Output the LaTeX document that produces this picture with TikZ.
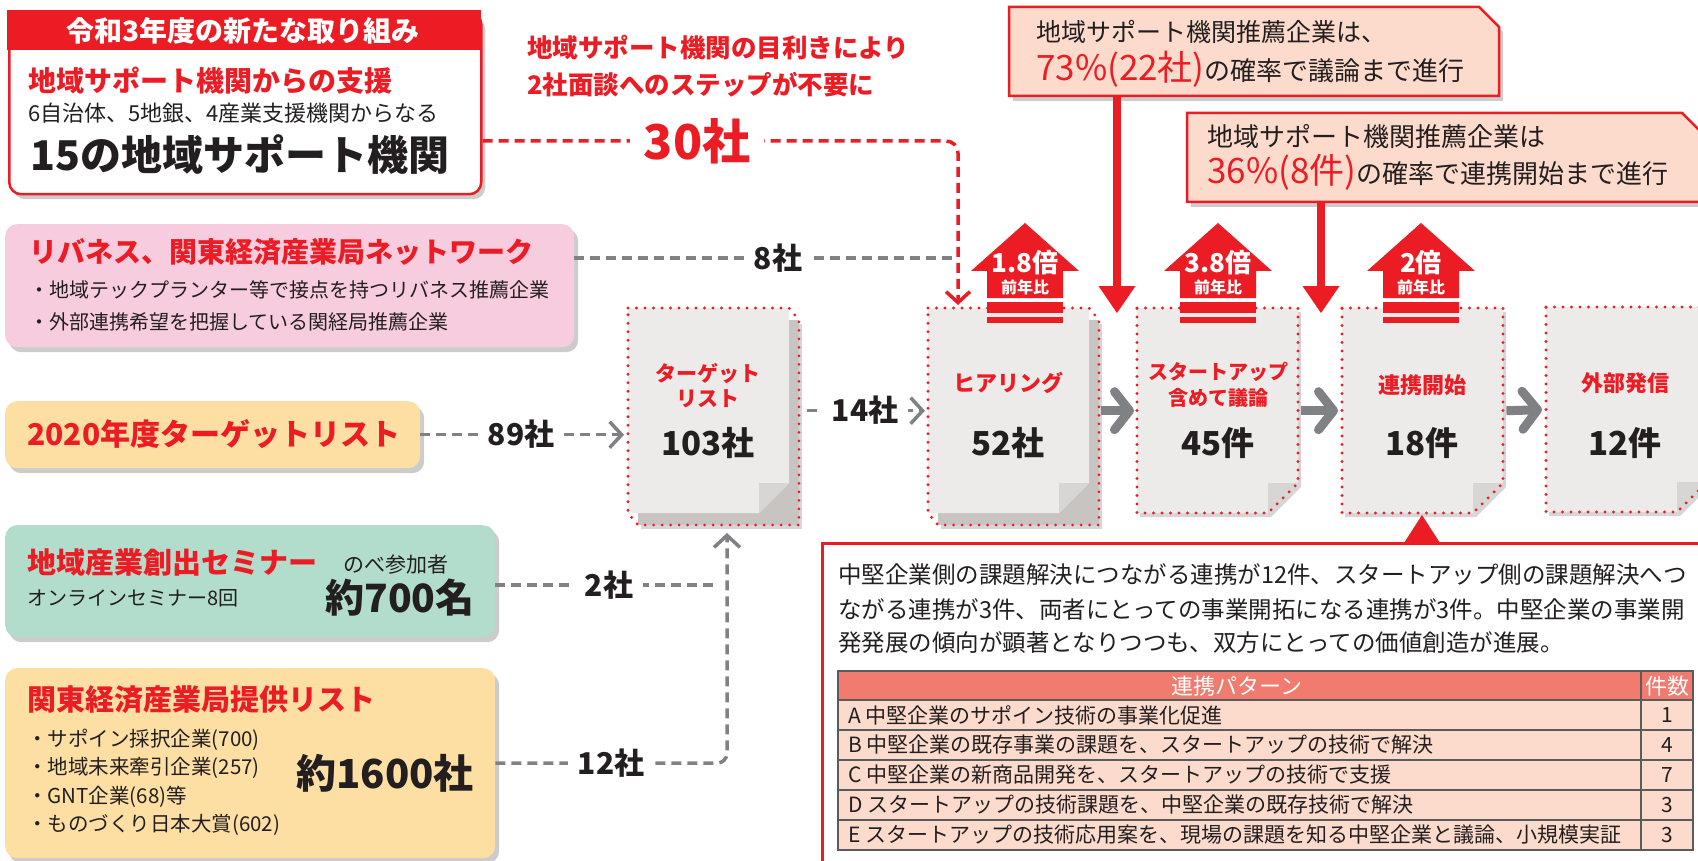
\documentclass[tikz,border=0pt]{standalone}
\usepackage{fontspec}
\setmainfont{Noto Sans CJK JP}
\usetikzlibrary{arrows.meta,shadows,calc}
\definecolor{tred}{HTML}{EC1C24}
\definecolor{tpink}{HTML}{F8CCDF}
\definecolor{tgreen}{HTML}{B2DCCB}
\definecolor{tyellow}{HTML}{FDDFA4}
\definecolor{tsalmon}{HTML}{FCDBCC}
\definecolor{thead}{HTML}{F07B6E}
\definecolor{tgray}{HTML}{808184}
\definecolor{tpage}{HTML}{EDEBE9}
\definecolor{tflap}{HTML}{D8D6D4}
\definecolor{tback}{HTML}{C7C4C2}
\definecolor{tblack}{HTML}{231F20}
\definecolor{tgrid}{HTML}{5A5B5D}
\newcommand\fsz[1]{\fontsize{#1}{#1}\selectfont}
\newcommand\fszl[2]{\fontsize{#1}{#2}\selectfont}
\tikzset{
  box/.style={rounded corners=12pt, anchor=north west, inner sep=0pt},
  shadowed/.style={drop shadow={shadow xshift=4pt, shadow yshift=-5pt, opacity=0.2, fill=black}},
  pageshadow/.style={drop shadow={shadow xshift=3pt, shadow yshift=-4pt, opacity=0.16, fill=black}},
  txt/.style={anchor=west, inner sep=0pt},
  btxt/.style={anchor=base west, inner sep=0pt},
  numlab/.style={fill=white, inner xsep=10pt, inner ysep=1pt, font=\fsz{30}\bfseries},
  graydash/.style={draw=tgray, line width=3.5pt, dash pattern=on 10pt off 6pt},
  graytip/.style={-{Straight Barb[length=12pt,width=26pt]}},
  reddash/.style={draw=tred, line width=3.5pt, dash pattern=on 10pt off 6pt},
  redtip/.style={-{Straight Barb[length=11pt,width=24pt]}},
  thickgray/.style={draw=tgray, line width=9pt, -{Straight Barb[length=15pt,width=38pt,round]}},
  redarrow/.style={draw=tred, line width=8pt, -{Triangle[length=27pt,width=37pt,line width=0pt]}},
  reddot/.style={draw=tred, line width=3.2pt, dash pattern=on 0pt off 8.5pt, line cap=round},
  pagebox/.style={inner sep=0pt, minimum width=161pt, minimum height=205pt, anchor=north west},
  pgtitle/.style={text=tred, font=\fsz{22}\bfseries, align=center, inner sep=0pt},
  pgnum/.style={text=tblack, font=\fsz{33}\bfseries, inner sep=0pt},
  pics/single/.style={code={
    \fill[tpage, pageshadow] (0,0) -- (161,0) -- (161,175) -- (131,205) -- (0,205) -- cycle;
    \fill[tflap] (131,175) -- (161,175) -- (131,205) -- cycle;
    \draw[reddot] (0,0) -- (161,0) -- (161,175) -- (131,205) -- (0,205) -- cycle;
    \node[pagebox] (-box) at (0,0) {};
  }},
  pics/stack/.style={code={
    \fill[tback, pageshadow] (10,12) rectangle (171,217);
    \fill[tpage] (0,0) -- (161,0) -- (161,175) -- (131,205) -- (0,205) -- cycle;
    \fill[tflap] (131,175) -- (161,175) -- (131,205) -- cycle;
    \draw[reddot] (0,0) -- (161,0) -- (171,12) -- (171,217) -- (10,217) -- (0,205) -- cycle;
    \node[pagebox] (-box) at (0,0) {};
  }},
  pics/uparr/.style={code={
    \fill[tred] (-38,75) -- (-38,48) -- (-54,48) -- (0,0) -- (54,48) -- (38,48) -- (38,75) -- cycle;
    \fill[tred] (-38,79) rectangle (38,90);
    \fill[tred] (-38,94) rectangle (38,100);
    \node[text=white, font=\fsz{26}\bfseries, inner sep=0pt] (-t) at (0,40) {#1};
    \node[text=white, font=\fsz{16}\bfseries, inner sep=0pt] (-s) at (0,64) {前年比};
  }},
}
\begin{document}
\begin{tikzpicture}[x=1pt, y=-1pt, text=tblack]
\useasboundingbox (0,0) rectangle (1698,861);
\fill[white] (0,0) rectangle (1698,861);
\clip (0,0) rectangle (1698,861);

% ---------- left boxes ----------
\node[box, draw=tred, line width=2.5pt, fill=white, minimum width=472pt, minimum height=182pt, shadowed] (kbox) at (8,11) {};
\fill[tred] (6.75,9.75) rectangle (481.25,50);
\node[text=white, font=\fsz{28}\bfseries, inner sep=0pt] (khead) at (243,31) {令和3年度の新たな取り組み};
\node[txt, text=tred, font=\fsz{28}\bfseries] (ksub) at (28,81) {地域サポート機関からの支援};
\node[txt, font=\fsz{22}] (kdet) at (28,113) {6自治体、5地銀、4産業支援機関からなる};
\node[txt, font=\fsz{41}\bfseries] (kbig) at (30,155) {15の地域サポート機関};

\node[txt, text=tred, font=\fsz{25.5}\bfseries] (note1) at (527,48) {地域サポート機関の目利きにより};
\node[txt, text=tred, font=\fsz{25.5}\bfseries] (note2) at (527,85) {2社面談へのステップが不要に};

\node[box, fill=tpink, minimum width=569pt, minimum height=123pt, shadowed] (rbox) at (5,224) {};
\node[txt, text=tred, font=\fsz{28}\bfseries] (rtitle) at (29,252) {リバネス、関東経済産業局ネットワーク};
\node[txt, font=\fsz{20}] (rb1) at (29,290) {・地域テックプランター等で接点を持つリバネス推薦企業};
\node[txt, font=\fsz{20}] (rb2) at (29,322) {・外部連携希望を把握している関経局推薦企業};

\node[box, fill=tyellow, minimum width=415pt, minimum height=67pt, shadowed] (t2020) at (5,401) {};
\node[txt, text=tred, font=\fsz{30}\bfseries] (t2020t) at (27,434) {2020年度ターゲットリスト};

\node[box, fill=tgreen, minimum width=490pt, minimum height=112pt, shadowed] (sem) at (5,525) {};
\node[txt, text=tred, font=\fsz{29}\bfseries] (semt) at (27,562) {地域産業創出セミナー};
\node[txt, font=\fsz{20}] (sems) at (27,598) {オンラインセミナー8回};
\node[font=\fsz{21}, inner sep=0pt] (semn) at (396,565) {のべ参加者};
\node[font=\fsz{39}\bfseries, inner sep=0pt] (semv) at (400,598) {約700名};

\node[box, fill=tyellow, minimum width=490pt, minimum height=190pt, shadowed] (kanto) at (5,668) {};
\node[txt, text=tred, font=\fsz{29}\bfseries] (kantot) at (27,700) {関東経済産業局提供リスト};
\node[txt, font=\fsz{20.5}] (kb1) at (27,740) {・サポイン採択企業(700)};
\node[txt, font=\fsz{20.5}] (kb2) at (27,768) {・地域未来牽引企業(257)};
\node[txt, font=\fsz{20.5}] (kb3) at (27,797) {・GNT企業(68)等};
\node[txt, font=\fsz{20.5}] (kb4) at (27,825) {・ものづくり日本大賞(602)};
\node[font=\fsz{40}\bfseries, inner sep=0pt] (kantov) at (385,773) {約1600社};

% ---------- pages ----------
\pic (p103) at (628,308) {stack};
\pic (pHear) at (928,308) {stack};
\pic (p45) at (1137,308) {single};
\pic (p18) at (1342,308) {single};
\pic (pOut) at (1546,307) {single};

\node[pgtitle, font=\fszl{21}{25}\bfseries] (p103t) at (708,386) {ターゲット\\リスト};
\node[pgnum] (p103n) at (708,443) {103社};
\node[pgtitle] (pHeart) at (1008,383) {ヒアリング};
\node[pgnum] (pHearn) at (1008,443) {52社};
\node[pgtitle, font=\fszl{20}{26}\bfseries] (p45t) at (1218,385) {スタートアップ\\含めて議論};
\node[pgnum] (p45n) at (1218,443) {45件};
\node[pgtitle] (p18t) at (1422,385) {連携開始};
\node[pgnum] (p18n) at (1422,443) {18件};
\node[pgtitle] (pOutt) at (1625,383) {外部発信};
\node[pgnum] (pOutn) at (1625,443) {12件};

% ---------- connectors ----------
\draw[reddash, redtip, rounded corners=12pt] (kbox.east |- 0,141) -| ([xshift=30pt, yshift=3pt]pHear-box.north west);
\node[numlab, text=tred, font=\fsz{48}\bfseries, inner xsep=14pt] (n30) at (697,141) {30社};

\coordinate (j8) at (954,258);
\draw[graydash] (rbox.east |- j8) -- (j8);
\node[numlab] (n8) at (778,258) {8社};

\draw[graydash, graytip, shorten >=4pt] (t2020.east) -- (t2020.east -| p103-box.west);
\node[numlab] (n89) at (521,434) {89社};

\draw[graydash, graytip, shorten <=18pt, shorten >=3pt] (p103-box.east) -- (pHear-box.west);
\node[numlab] (n14) at (865,410) {14社};

\coordinate (j2) at (718,585);
\draw[graydash] (sem.east |- j2) -- (j2);
\node[numlab] (n2) at (609,585) {2社};

\coordinate (u103) at (727,533);
\draw[graydash, graytip, rounded corners=10pt] (kanto.east) -| (u103);
\node[numlab] (n12) at (611,763) {12社};

\draw[thickgray] ([xshift=12pt]pHear-box.east) -- ([xshift=-3pt]p45-box.west);
\draw[thickgray] ([xshift=3pt]p45-box.east) -- ([xshift=-4pt]p18-box.west);
\draw[thickgray] ([xshift=3pt]p18-box.east) -- ([xshift=-4pt]pOut-box.west);

% ---------- up arrows ----------
\pic (u1) at (1025,223) {uparr=1.8倍};
\pic (u2) at (1218,223) {uparr=3.8倍};
\pic (u3) at (1421,223) {uparr=2倍};

% ---------- callouts ----------
\draw[tred, line width=2.5pt, fill=tsalmon, shadowed] (1009,7) -- (1479,7) -- (1499,27) -- (1499,96) -- (1009,96) -- cycle;
\node[inner sep=0pt, minimum width=490pt, minimum height=89pt, anchor=north west] (c1) at (1009,7) {};
\node[btxt, font=\fsz{25}] (c1a) at (1036,42) {地域サポート機関推薦企業は、};
\node[btxt, font=\fsz{26}] (c1b) at (1036,81) {\textcolor{tred}{\fsz{35}73\%(22社)}の確率で議論まで進行};

\draw[tred, line width=2.5pt, fill=tsalmon, shadowed] (1187,113) -- (1682,113) -- (1702,133) -- (1702,202) -- (1187,202) -- cycle;
\node[inner sep=0pt, minimum width=515pt, minimum height=89pt, anchor=north west] (c2) at (1187,113) {};
\node[btxt, font=\fsz{26}] (c2a) at (1207,147) {地域サポート機関推薦企業は};
\node[btxt, font=\fsz{26}] (c2b) at (1207,184) {\textcolor{tred}{\fsz{35}36\%(8件)}の確率で連携開始まで進行};

\coordinate (d1) at (1117,313);
\draw[redarrow] (c1.south -| d1) -- (d1);
\coordinate (d2) at (1321,313);
\draw[redarrow] (c2.south -| d2) -- (d2);

% ---------- bottom-right box ----------
\node[draw=tred, line width=2.5pt, fill=white, inner sep=0pt, minimum width=900pt, minimum height=340pt, anchor=north west] (tb) at (821,542) {};
\fill[tred] (1404,543) -- (1422,515) -- (1440,543) -- cycle;
\node[txt, font=\fsz{23.5}] (par1) at (838,575) {中堅企業側の課題解決につながる連携が12件、スタートアップ側の課題解決へつ};
\node[txt, font=\fsz{23.5}] (par2) at (838,610) {ながる連携が3件、両者にとっての事業開拓になる連携が3件。中堅企業の事業開};
\node[txt, font=\fsz{23.5}] (par3) at (838,643) {発発展の傾向が顕著となりつつも、双方にとっての価値創造が進展。};

\fill[thead] (838,671) rectangle (1693,700);
\fill[tsalmon] (838,700) rectangle (1693,850);
\draw[tgrid, line width=1.5pt] (838,671) rectangle (1693,850);
\foreach \yy in {700,730,760,790,820} \draw[tgrid, line width=1.5pt] (838,\yy) -- (1693,\yy);
\draw[tgrid, line width=1.5pt] (1641,671) -- (1641,850);
\node[text=white, font=\fsz{22}, inner sep=0pt] (th1) at (1237,686) {連携パターン};
\node[text=white, font=\fsz{22}, inner sep=0pt] (th2) at (1667,686) {件数};
\node[txt, font=\fsz{21}] (ra) at (848,715) {A 中堅企業のサポイン技術の事業化促進};
\node[txt, font=\fsz{21}] (rb) at (848,745) {B 中堅企業の既存事業の課題を、スタートアップの技術で解決};
\node[txt, font=\fsz{21}] (rc) at (848,775) {C 中堅企業の新商品開発を、スタートアップの技術で支援};
\node[txt, font=\fsz{21}] (rd) at (848,805) {D スタートアップの技術課題を、中堅企業の既存技術で解決};
\node[txt, font=\fsz{21}] (re) at (848,835) {E スタートアップの技術応用案を、現場の課題を知る中堅企業と議論、小規模実証};
\node[font=\fsz{21}, inner sep=0pt] (na) at (1667,715) {1};
\node[font=\fsz{21}, inner sep=0pt] (nb) at (1667,745) {4};
\node[font=\fsz{21}, inner sep=0pt] (nc) at (1667,775) {7};
\node[font=\fsz{21}, inner sep=0pt] (nd) at (1667,805) {3};
\node[font=\fsz{21}, inner sep=0pt] (ne) at (1667,835) {3};
\end{tikzpicture}
\end{document}
